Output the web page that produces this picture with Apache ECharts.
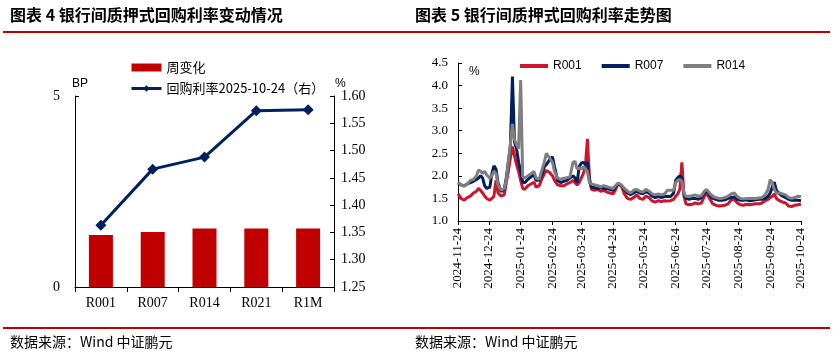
<!DOCTYPE html>
<html><head><meta charset="utf-8">
<script src="https://cdn.jsdelivr.net/npm/echarts@6/dist/echarts.min.js"></script>
<style>html,body{margin:0;padding:0;background:#fff}#c{width:833px;height:355px}</style>
</head><body><div id="c"></div>
<script>
// ---------- Left chart data ----------
const tenors = ['R001', 'R007', 'R014', 'R021', 'R1M'];
const weeklyChangeBP = [1.36, 1.44, 1.53, 1.53, 1.53];
const rate20251024 = [1.363, 1.466, 1.488, 1.573, 1.575];
const leftBarName = '周变化';
const leftLineName = '回购利率2025-10-24（右）';

// ---------- Right chart data ----------
const trendStart = '2024-11-24';
const trendEnd = '2025-10-24';
const monthLabels = ['2024-11-24','2024-12-24','2025-01-24','2025-02-24','2025-03-24','2025-04-24',
  '2025-05-24','2025-06-24','2025-07-24','2025-08-24','2025-09-24','2025-10-24'];
// calendar days after 2024-11-24
const dayOffsets = [0,3,6,9,12,15,18,20,22,24,26,28,31,33,35,37,39,42,45,47,49,51,53,55,57,59,61,63,65,68,71,74,76,79,82,84,86,89,92,94,97,100,103,106,109,112,114,116,118,120,122,124,126,128,130,133,136,139,142,145,148,151,154,156,159,162,165,168,171,174,177,180,183,186,189,192,195,198,201,204,207,210,212,214,216,218,220,222,225,228,231,234,237,240,242,245,248,251,254,257,260,263,266,269,272,275,278,281,284,287,290,293,296,299,302,304,306,308,310,313,316,319,322,325,328,331,334];
const r001 = [1.60,1.50,1.46,1.52,1.55,1.62,1.66,1.72,1.68,1.62,1.55,1.50,1.46,1.50,1.55,1.90,1.62,1.55,1.58,1.85,2.10,2.40,2.65,2.45,2.25,2.10,1.90,1.72,1.70,1.78,1.82,1.86,1.75,1.78,1.95,2.05,2.12,2.08,2.00,1.90,1.80,1.78,1.78,1.82,1.85,1.90,1.85,1.80,1.85,1.95,2.05,2.20,2.82,1.95,1.70,1.68,1.70,1.66,1.68,1.64,1.62,1.60,1.72,1.84,1.78,1.60,1.50,1.48,1.52,1.58,1.50,1.48,1.55,1.52,1.44,1.42,1.45,1.43,1.45,1.44,1.45,1.48,1.55,1.60,1.70,2.30,1.55,1.38,1.36,1.37,1.40,1.38,1.40,1.55,1.62,1.50,1.38,1.35,1.33,1.34,1.35,1.38,1.47,1.48,1.40,1.36,1.35,1.37,1.36,1.37,1.38,1.38,1.40,1.45,1.48,1.52,1.55,1.60,1.50,1.45,1.42,1.40,1.33,1.32,1.35,1.36,1.37];
const r007 = [1.84,1.80,1.78,1.82,1.85,1.88,1.92,1.95,2.00,1.95,1.78,1.72,1.75,2.05,2.22,2.15,1.85,1.65,1.70,1.95,2.30,2.65,4.20,2.75,2.60,2.30,2.10,1.86,1.85,1.92,1.98,2.02,1.90,1.90,2.05,2.20,2.25,2.35,2.42,2.20,1.90,1.85,1.88,1.90,1.95,2.00,1.95,1.85,2.20,2.28,2.30,2.25,2.30,1.90,1.75,1.74,1.72,1.74,1.72,1.72,1.70,1.68,1.78,1.82,1.78,1.70,1.62,1.58,1.62,1.66,1.62,1.60,1.65,1.62,1.55,1.52,1.54,1.52,1.54,1.55,1.54,1.62,1.90,1.96,2.00,1.95,1.60,1.50,1.48,1.50,1.50,1.48,1.52,1.62,1.68,1.58,1.50,1.48,1.46,1.46,1.47,1.50,1.52,1.53,1.48,1.46,1.46,1.47,1.45,1.46,1.47,1.48,1.48,1.50,1.55,1.62,1.75,1.86,1.68,1.60,1.55,1.52,1.48,1.46,1.46,1.46,1.45];
const r014 = [1.86,1.80,1.77,1.82,1.90,1.92,2.00,2.13,2.10,2.05,2.10,2.02,1.95,2.00,2.10,2.05,1.80,1.68,1.72,1.90,2.30,2.70,3.15,2.80,2.70,2.60,4.12,1.98,1.95,2.00,2.05,2.10,1.95,1.92,2.15,2.30,2.50,2.40,2.30,2.10,1.95,1.92,1.95,1.96,1.98,2.30,2.32,2.15,2.18,2.15,2.20,2.15,2.10,1.85,1.82,1.80,1.78,1.76,1.78,1.76,1.74,1.72,1.80,1.84,1.80,1.72,1.66,1.62,1.68,1.70,1.66,1.64,1.70,1.66,1.60,1.58,1.60,1.58,1.60,1.68,1.68,1.68,1.85,1.90,1.92,1.88,1.62,1.54,1.55,1.56,1.58,1.55,1.56,1.66,1.70,1.62,1.55,1.52,1.50,1.50,1.52,1.55,1.60,1.62,1.54,1.50,1.49,1.50,1.50,1.50,1.50,1.51,1.52,1.58,1.70,1.92,1.85,1.70,1.62,1.62,1.60,1.58,1.52,1.50,1.52,1.55,1.54];

// ---------- build ----------
function fmt(t){const d=new Date(t);return d.getUTCFullYear()+'-'+String(d.getUTCMonth()+1).padStart(2,'0')+'-'+String(d.getUTCDate()).padStart(2,'0');}
const t0 = Date.parse(trendStart+'T00:00:00Z'), t1 = Date.parse(trendEnd+'T00:00:00Z');
const days = [];
for (let t = t0; t <= t1; t += 86400000) days.push(fmt(t));
function expand(vals){const a=new Array(days.length).fill(null);dayOffsets.forEach((d,i)=>{a[d]=vals[i];});return a;}
const isMonthTick = (idx, val) => monthLabels.indexOf(val) >= 0;

const serif = 'Liberation Serif';
const sans = 'Liberation Sans';
const cjk = 'Noto Sans CJK SC';
const axisLine = {show:true, lineStyle:{color:'#000', width:1}};

const chart = echarts.init(document.getElementById('c'), null, {renderer:'canvas'});
chart.setOption({
  animation:false,
  backgroundColor:'#fff',
  grid:[
    {left:75, top:96, width:259, height:191},
    {left:458, top:63, width:343, height:158}
  ],
  legend:[
    {left:125, top:56, orient:'vertical', itemWidth:30, itemHeight:8, itemGap:8,
     textStyle:{fontFamily:cjk, fontSize:13, color:'#000'},
     data:[{name:leftBarName, icon:'rect'}, {name:leftLineName, lineStyle:{width:3}}]},
    {left:515, top:55, orient:'horizontal', itemWidth:28, itemHeight:4, itemGap:20, icon:'rect',
     textStyle:{fontFamily:sans, fontSize:12, color:'#000'},
     data:['R001','R007','R014']}
  ],
  xAxis:[
    {type:'category', gridIndex:0, data:tenors, boundaryGap:true, axisLine:axisLine,
     axisTick:{show:true, length:5, lineStyle:{color:'#000'}},
     axisLabel:{fontFamily:serif, fontSize:14, color:'#000', margin:9}},
    {type:'category', gridIndex:1, data:days, boundaryGap:false, axisLine:axisLine,
     axisTick:{show:true, length:4, interval:isMonthTick, lineStyle:{color:'#000'}},
     axisLabel:{interval:isMonthTick, rotate:90, fontFamily:serif, fontSize:13, color:'#000', margin:7}}
  ],
  yAxis:[
    {type:'value', gridIndex:0, position:'left', min:0, max:5, interval:5, axisLine:axisLine,
     axisTick:{show:true, inside:true, length:4, lineStyle:{color:'#000'}}, splitLine:{show:false},
     axisLabel:{fontFamily:serif, fontSize:14, color:'#000', margin:15}},
    {type:'value', gridIndex:0, position:'right', min:1.25, max:1.60, interval:0.05, axisLine:axisLine,
     axisTick:{show:true, inside:true, length:4, lineStyle:{color:'#000'}}, splitLine:{show:false},
     axisLabel:{fontFamily:serif, fontSize:14, color:'#000', margin:7, formatter:v=>v.toFixed(2)}},
    {type:'value', gridIndex:1, min:1.0, max:4.5, interval:0.5, axisLine:axisLine,
     axisTick:{show:true, inside:true, length:4, lineStyle:{color:'#000'}}, splitLine:{show:false},
     axisLabel:{fontFamily:serif, fontSize:13, color:'#000', margin:10, formatter:v=>v.toFixed(1)}}
  ],
  series:[
    {name:leftBarName, type:'bar', xAxisIndex:0, yAxisIndex:0, data:weeklyChangeBP, barWidth:24,
     itemStyle:{color:'#C00000'}},
    {name:leftLineName, type:'line', xAxisIndex:0, yAxisIndex:1, data:rate20251024,
     symbol:'diamond', symbolSize:11, itemStyle:{color:'#002060'}, lineStyle:{color:'#002060', width:3}},
    {name:'R001', type:'line', xAxisIndex:1, yAxisIndex:2, data:expand(r001), showSymbol:false, connectNulls:true,
     itemStyle:{color:'#D0142C'}, lineStyle:{color:'#D0142C', width:3}},
    {name:'R007', type:'line', xAxisIndex:1, yAxisIndex:2, data:expand(r007), showSymbol:false, connectNulls:true,
     itemStyle:{color:'#002060'}, lineStyle:{color:'#002060', width:3}},
    {name:'R014', type:'line', xAxisIndex:1, yAxisIndex:2, data:expand(r014), showSymbol:false, connectNulls:true,
     itemStyle:{color:'#7F7F7F'}, lineStyle:{color:'#7F7F7F', width:3}}
  ],
  graphic:[
    {type:'text', left:10, top:7, style:{text:'图表 4 银行间质押式回购利率变动情况', font:'bold 16px "Noto Sans CJK SC"', fill:'#000'}},
    {type:'text', left:415, top:7, style:{text:'图表 5 银行间质押式回购利率走势图', font:'bold 16px "Noto Sans CJK SC"', fill:'#000'}},
    {type:'rect', shape:{x:3, y:31, width:827, height:2}, style:{fill:'#C00000'}},
    {type:'rect', shape:{x:3, y:327, width:827, height:2}, style:{fill:'#C00000'}},
    {type:'text', left:10, top:335, style:{text:'数据来源：Wind 中证鹏元', font:'14px "Noto Sans CJK SC"', fill:'#000'}},
    {type:'text', left:415, top:335, style:{text:'数据来源：Wind 中证鹏元', font:'14px "Noto Sans CJK SC"', fill:'#000'}},
    {type:'text', left:72, top:78, style:{text:'BP', font:'12px "Liberation Sans"', fill:'#000'}},
    {type:'text', left:335, top:78, style:{text:'%', font:'12px "Liberation Sans"', fill:'#000'}},
    {type:'text', left:469, top:66, style:{text:'%', font:'12px "Liberation Sans"', fill:'#000'}}
  ]
});
</script></body></html>
